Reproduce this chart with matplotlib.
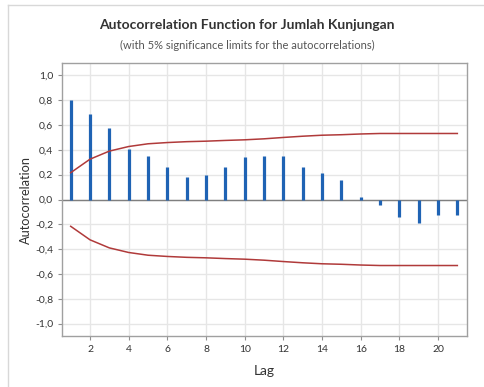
import matplotlib
matplotlib.use("Agg")
import matplotlib.pyplot as plt
import matplotlib.ticker as ticker
from matplotlib.lines import Line2D

# ACF values
lags = list(range(1, 22))
acf = [0.80, 0.69, 0.58, 0.41, 0.35, 0.26, 0.185, 0.20, 0.26, 0.345, 0.352,
       0.35, 0.262, 0.211, 0.157, 0.019, -0.045, -0.141, -0.192, -0.125, -0.125]
upper = [0.216, 0.325, 0.390, 0.427, 0.449, 0.459, 0.466, 0.470, 0.476, 0.481,
         0.489, 0.500, 0.510, 0.518, 0.522, 0.528, 0.532, 0.532, 0.532, 0.532, 0.532]
lower = [-u for u in upper]

yticks = [-1.0, -0.8, -0.6, -0.4, -0.2, 0.0, 0.2, 0.4, 0.6, 0.8, 1.0]
xticks = list(range(2, 21, 2))

plt.rcParams["font.family"] = ["Lato", "DejaVu Sans"]

fig = plt.figure(figsize=(4.84, 3.87), dpi=100)
ax = fig.add_axes([62 / 484, 1 - 336 / 387, 405 / 484, 273 / 387])

ax.grid(True, color="#e6e6e6", linewidth=1.0, zorder=0)
ax.axhline(0, color="#7f7f7f", linewidth=1.0, zorder=2)
ax.vlines(lags, 0, acf, color="#1f63b4", linewidth=2.3, zorder=3)
ax.plot(lags, upper, color="#b03a3a", linewidth=1.1, zorder=4)
ax.plot(lags, lower, color="#b03a3a", linewidth=1.1, zorder=4)

ax.set_xlim(0.55, 21.5)
ax.set_ylim(-1.1, 1.1)
ax.set_xticks(xticks)
ax.set_yticks(yticks)
ax.yaxis.set_major_formatter(
    ticker.FuncFormatter(lambda v, p: f"{v:.1f}".replace(".", ",").replace("-0,0", "0,0")))
ax.tick_params(labelsize=7.5, colors="#333333", length=3, width=0.8)
ax.tick_params(axis="both", color="#909090")
for s in ax.spines.values():
    s.set_color("#a0a0a0")
    s.set_linewidth(1.0)

ax.set_xlabel("Lag", fontsize=10, color="#333333")
ax.set_ylabel("Autocorrelation", fontsize=9.2, color="#333333")
ax.xaxis.set_label_coords(0.5, -0.107)
ax.yaxis.set_label_coords(-0.074, 0.5)

fig.text(0.5 + 5 / 484, 1 - 25 / 387, "Autocorrelation Function for Jumlah Kunjungan",
         ha="center", va="center", fontsize=10, fontweight="bold", color="#333333")
fig.text(0.5 + 5 / 484, 1 - 45 / 387, "(with 5% significance limits for the autocorrelations)",
         ha="center", va="center", fontsize=8, color="#555555")

# light frame at top and left of the figure
fig.add_artist(Line2D([8 / 484, 8 / 484], [0, 1 - 5 / 387], transform=fig.transFigure,
                      color="#d8d8d8", linewidth=1.0))
fig.add_artist(Line2D([8 / 484, 1], [1 - 5 / 387, 1 - 5 / 387], transform=fig.transFigure,
                      color="#d8d8d8", linewidth=1.0))

fig.savefig("out.png", dpi=100)
